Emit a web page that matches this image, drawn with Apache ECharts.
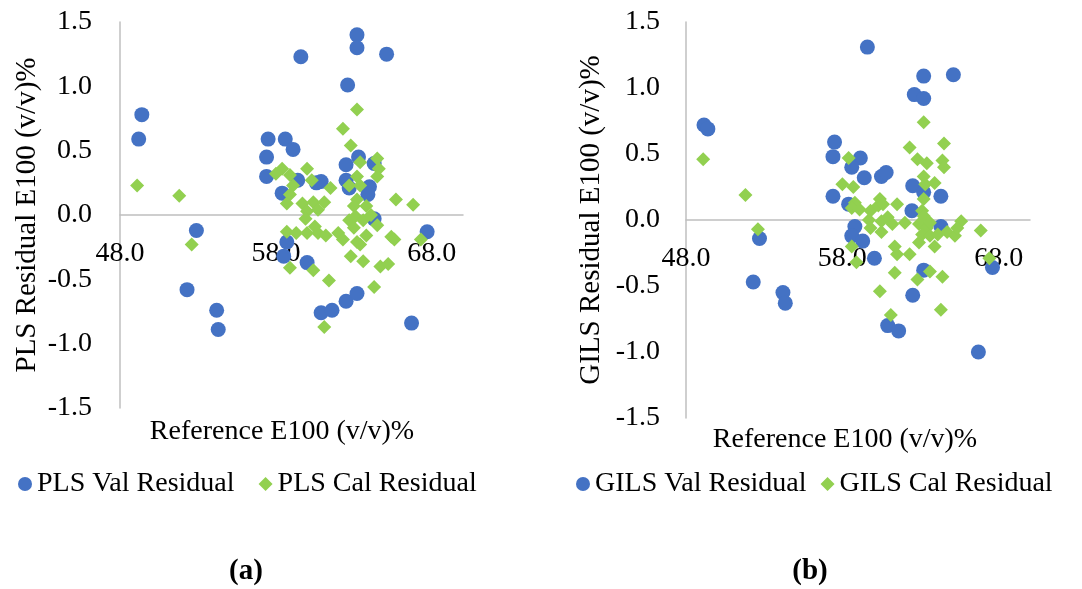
<!DOCTYPE html>
<html>
<head>
<meta charset="utf-8">
<script src="https://cdn.jsdelivr.net/npm/echarts@6/dist/echarts.min.js"></script>
<style>
  html, body { margin: 0; padding: 0; background: #fff; }
  #chart { width: 1082px; height: 589px; }
</style>
</head>
<body>
<div id="chart"></div>
<script>
// Residuals (v/v)% against reference E100 concentration, [reference, residual]
const plsVal = [
  [49.4, 0.78], [49.2, 0.59], [52.9, -0.12], [52.3, -0.58], [54.2, -0.74], [54.3, -0.89],
  [57.5, 0.59], [58.6, 0.59], [59.1, 0.51], [57.4, 0.45], [57.4, 0.30], [59.4, 0.27],
  [60.6, 0.25], [60.9, 0.26], [58.4, 0.17], [58.7, -0.21], [58.5, -0.32], [60.0, -0.37],
  [60.9, -0.76], [61.6, -0.74], [62.5, -0.67], [63.2, -0.61], [66.7, -0.84], [67.7, -0.13],
  [62.5, 0.39], [63.3, 0.45], [64.3, 0.40], [62.5, 0.27], [62.7, 0.21], [64.0, 0.22],
  [63.9, 0.16], [64.3, -0.03], [63.2, 1.40], [63.2, 1.30], [59.6, 1.23], [65.1, 1.25],
  [62.6, 1.01]
];
const plsCal = [
  [49.1, 0.23], [51.8, 0.15], [52.6, -0.23], [63.2, 0.82], [62.3, 0.67], [62.8, 0.54],
  [64.5, 0.44], [63.4, 0.41], [64.6, 0.36], [64.5, 0.30], [63.2, 0.30], [62.7, 0.23],
  [63.4, 0.23], [58.4, 0.36], [58.0, 0.32], [58.9, 0.31], [60.0, 0.36], [60.3, 0.27],
  [59.1, 0.23], [61.5, 0.21], [58.9, 0.16], [58.7, 0.09], [59.7, 0.09], [60.4, 0.10],
  [61.1, 0.10], [60.0, 0.03], [60.7, 0.04], [59.9, -0.03], [65.7, 0.12], [66.8, 0.08],
  [63.2, 0.12], [63.0, 0.07], [63.8, 0.07], [64.1, 0.00], [63.1, -0.01], [62.7, -0.04],
  [63.6, -0.04], [64.5, -0.08], [58.7, -0.13], [59.3, -0.14], [60.0, -0.14], [60.5, -0.09],
  [60.7, -0.14], [61.2, -0.16], [62.0, -0.14], [62.3, -0.19], [63.0, -0.10], [63.2, -0.21],
  [63.8, -0.16], [65.4, -0.17], [65.6, -0.19], [67.3, -0.19], [58.9, -0.41], [60.4, -0.43],
  [61.4, -0.51], [62.8, -0.32], [63.6, -0.36], [64.7, -0.40], [65.2, -0.38], [64.3, -0.56],
  [61.1, -0.87], [63.4, -0.23]
];
const gilsVal = [
  [49.15, 0.72], [49.4, 0.69], [52.7, -0.14], [52.3, -0.47], [54.2, -0.55], [54.35, -0.63],
  [59.6, 1.31], [63.2, 1.09], [65.1, 1.10], [62.6, 0.95], [63.2, 0.92], [57.5, 0.59],
  [57.4, 0.48], [59.15, 0.47], [58.6, 0.40], [59.4, 0.32], [60.5, 0.33], [60.8, 0.36],
  [57.4, 0.18], [58.4, 0.12], [62.5, 0.26], [63.2, 0.21], [64.3, 0.18], [62.45, 0.07],
  [58.8, -0.05], [58.6, -0.12], [59.3, -0.16], [60.05, -0.29], [64.3, -0.05], [63.2, -0.38],
  [62.5, -0.57], [60.9, -0.80], [61.6, -0.84], [66.7, -1.00], [67.6, -0.36]
];
const gilsCal = [
  [49.1, 0.46], [51.8, 0.19], [52.6, -0.07], [63.2, 0.74], [62.3, 0.55], [64.5, 0.58],
  [58.4, 0.47], [62.8, 0.46], [63.4, 0.43], [64.4, 0.45], [64.5, 0.40], [63.2, 0.33],
  [63.3, 0.27], [63.9, 0.28], [58.0, 0.27], [58.7, 0.25], [63.2, 0.16], [61.5, 0.12],
  [58.8, 0.13], [58.6, 0.09], [59.1, 0.08], [59.8, 0.07], [60.4, 0.16], [60.3, 0.11],
  [60.6, 0.12], [59.7, 0.00], [59.8, -0.06], [60.5, -0.01], [60.9, 0.02], [61.2, -0.03],
  [60.5, -0.09], [62.0, -0.02], [63.1, 0.07], [63.2, 0.03], [62.9, -0.03], [63.4, -0.06],
  [63.6, -0.02], [63.1, -0.11], [63.6, -0.12], [64.1, -0.11], [62.9, -0.17], [63.9, -0.20],
  [64.7, -0.09], [65.2, -0.12], [65.6, -0.01], [65.35, -0.06], [66.85, -0.08], [67.4, -0.29],
  [58.6, -0.20], [58.9, -0.32], [61.35, -0.20], [61.5, -0.26], [62.3, -0.26], [61.35, -0.40],
  [60.4, -0.54], [62.8, -0.45], [63.6, -0.39], [64.4, -0.43], [64.3, -0.68], [61.1, -0.72]
];

const xTitle = 'Reference E100 (v/v)%';
const yTitles = ['PLS Residual E100 (v/v)%', 'GILS Residual E100 (v/v)%'];
const seriesNames = [
  ['PLS Val Residual', 'PLS Cal Residual'],
  ['GILS Val Residual', 'GILS Cal Residual']
];
const panelLabels = ['(a)', '(b)'];

const FONT = '"Liberation Serif", "Times New Roman", serif';
const BLUE = '#4472C4';
const GREEN = '#92D050';
const AXIS_GRAY = '#BFBFBF';

// The horizontal axis crosses the vertical one at residual 0, i.e. mid-height of each plot.
function xAxis(gridIndex, plotHeight) {
  return {
    type: 'value', gridIndex, min: 48, max: 70, interval: 10,
    offset: -plotHeight / 2,
    axisLine: { onZero: false, lineStyle: { color: AXIS_GRAY, width: 1.5 } },
    axisTick: { show: false },
    splitLine: { show: false },
    axisLabel: {
      showMaxLabel: false, margin: 25,
      fontFamily: FONT, fontSize: 28, color: '#000',
      formatter: v => v.toFixed(1)
    }
  };
}
function yAxis(gridIndex, name, gap, margin) {
  return {
    type: 'value', gridIndex, min: -1.5, max: 1.5, interval: 0.5,
    name, nameLocation: 'middle', nameRotate: 90, nameGap: gap,
    nameTextStyle: { fontFamily: FONT, fontSize: 29, color: '#000' },
    axisLine: { show: true, onZero: false, lineStyle: { color: AXIS_GRAY, width: 1.5 } },
    axisTick: { show: false },
    splitLine: { show: false },
    axisLabel: {
      margin, fontFamily: FONT, fontSize: 28, color: '#000',
      formatter: v => v.toFixed(1)
    }
  };
}
function scatter(name, data, idx, symbol, size, color) {
  return {
    type: 'scatter', name, data, xAxisIndex: idx, yAxisIndex: idx,
    symbol, symbolSize: size, itemStyle: { color, opacity: 1 },
    emphasis: { disabled: true }
  };
}
function label(text, x, y, font) {
  return {
    type: 'text', x, y,
    style: { text, fill: '#000', font, textAlign: 'center', textVerticalAlign: 'middle' }
  };
}

const chart = echarts.init(document.getElementById('chart'), null, { renderer: 'canvas' });
chart.setOption({
  animation: false,
  backgroundColor: '#fff',
  grid: [
    { left: 120, top: 22, width: 343, height: 386 },
    { left: 686, top: 22, width: 344, height: 396 }
  ],
  xAxis: [xAxis(0, 386), xAxis(1, 396)],
  yAxis: [yAxis(0, yTitles[0], 78, 28), yAxis(1, yTitles[1], 80, 26)],
  legend: [
    {
      left: 13, top: 465, itemWidth: 14, itemHeight: 14, itemGap: 24,
      textStyle: { fontFamily: FONT, fontSize: 28, color: '#000' },
      data: [
        { name: seriesNames[0][0], icon: 'circle' },
        { name: seriesNames[0][1], icon: 'diamond' }
      ]
    },
    {
      left: 571, top: 465, itemWidth: 14, itemHeight: 14, itemGap: 14,
      textStyle: { fontFamily: FONT, fontSize: 28, color: '#000' },
      data: [
        { name: seriesNames[1][0], icon: 'circle' },
        { name: seriesNames[1][1], icon: 'diamond' }
      ]
    }
  ],
  series: [
    scatter(seriesNames[0][0], plsVal, 0, 'circle', 15, BLUE),
    scatter(seriesNames[0][1], plsCal, 0, 'diamond', 14, GREEN),
    scatter(seriesNames[1][0], gilsVal, 1, 'circle', 15, BLUE),
    scatter(seriesNames[1][1], gilsCal, 1, 'diamond', 14, GREEN)
  ],
  graphic: [
    label(xTitle, 282, 432, '28px ' + FONT),
    label(xTitle, 845, 440, '28px ' + FONT),
    label(panelLabels[0], 246, 572, 'bold 29px ' + FONT),
    label(panelLabels[1], 810, 572, 'bold 29px ' + FONT)
  ]
});
</script>
</body>
</html>
